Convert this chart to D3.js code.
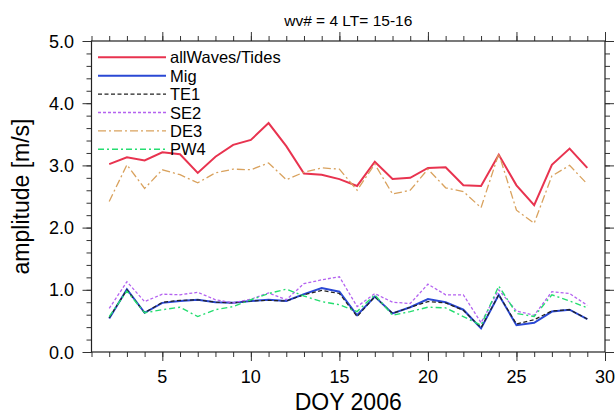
<!DOCTYPE html>
<html>
<head>
<meta charset="utf-8">
<script src="https://d3js.org/d3.v7.min.js"></script>
<style>
  body { margin: 0; background: #fff; }
  text { font-family: "Liberation Sans", Arial, Helvetica, sans-serif; }
</style>
</head>
<body>
<svg id="ampChart" width="615" height="415"></svg>
<script>
// DOY 2006
const days = [2,3,4,5,6,7,8,9,10,11,12,13,14,15,16,17,18,19,20,21,22,23,24,25,26,27,28,29];

const allWaves = [3.02,3.13,3.08,3.21,3.18,2.88,3.14,3.33,3.41,3.68,3.31,2.87,2.85,2.78,2.67,3.06,2.78,2.80,2.96,2.97,2.68,2.67,3.17,2.68,2.36,3.01,3.27,2.96];
const mig      = [0.54,1.01,0.63,0.79,0.82,0.84,0.80,0.79,0.82,0.84,0.82,0.93,1.03,0.97,0.59,0.89,0.62,0.72,0.85,0.80,0.68,0.38,0.92,0.43,0.47,0.65,0.68,0.53];
const te1      = [0.55,1.00,0.63,0.80,0.83,0.84,0.80,0.79,0.82,0.83,0.82,0.92,0.99,0.94,0.57,0.89,0.62,0.72,0.81,0.79,0.67,0.39,0.92,0.45,0.52,0.66,0.68,0.53];
const se2      = [0.70,1.13,0.81,0.93,0.92,0.96,0.84,0.79,0.85,0.95,0.84,1.10,1.16,1.21,0.73,0.94,0.80,0.78,1.09,0.92,0.92,0.47,1.00,0.66,0.59,0.97,0.94,0.75];
const de3      = [2.42,3.01,2.63,2.93,2.85,2.72,2.88,2.94,2.93,3.04,2.77,2.89,2.96,2.94,2.60,3.02,2.54,2.60,2.94,2.64,2.58,2.32,3.19,2.28,2.07,2.83,3.00,2.70];
const pw4      = [0.57,0.98,0.63,0.68,0.72,0.57,0.68,0.73,0.84,0.94,1.01,0.90,0.81,0.76,0.65,0.92,0.59,0.65,0.72,0.71,0.57,0.43,1.06,0.62,0.57,0.92,0.82,0.71];

const xTicks = [5,10,15,20,25,30];
const yTicks = [0,1,2,3,4,5];

const series = [
  {name: "allWaves/Tides", values: allWaves, color: "#e8334f", width: 2,   dash: null},
  {name: "Mig",            values: mig,      color: "#2a48d4", width: 2,   dash: null},
  {name: "TE1",            values: te1,      color: "#222222", width: 1.2, dash: "4,2.5"},
  {name: "SE2",            values: se2,      color: "#b462f0", width: 1.3, dash: "3,2"},
  {name: "DE3",            values: de3,      color: "#d9a25e", width: 1.3, dash: "8,3,2,3"},
  {name: "PW4",            values: pw4,      color: "#25dd70", width: 1.4, dash: "6,3,2,3"}
];

const svg = d3.select("#ampChart");
const mLeft = 91.5, mRight = 605, mTop = 41, mBottom = 352;

let xScale = d3.scaleLinear().domain([1, 30]).range([mLeft, mRight]);
let yScale = d3.scaleLinear().domain([0, 5]).range([mBottom, mTop]);

// frame with outward ticks on all four sides
function tickAxis(axis, transform, major, minor) {
  svg.append("g").attr("transform", transform)
    .call(axis.tickValues(minor).tickSize(5).tickFormat(""))
    .call(g => g.select(".domain").remove());
  svg.append("g").attr("transform", transform)
    .call(axis.tickValues(major).tickSize(9).tickFormat(""))
    .call(g => g.select(".domain").remove());
}
const xMinor = d3.range(1, 31);
const yMinor = d3.range(0, 5.01, 0.2);
tickAxis(d3.axisBottom(xScale), "translate(0," + mBottom + ")", xTicks, xMinor);
tickAxis(d3.axisTop(xScale), "translate(0," + mTop + ")", xTicks, xMinor);
tickAxis(d3.axisLeft(yScale), "translate(" + mLeft + ",0)", yTicks, yMinor);
tickAxis(d3.axisRight(yScale), "translate(" + mRight + ",0)", yTicks, yMinor);

svg.selectAll(".tick line").attr("stroke", "#333").attr("stroke-width", 1);

svg.append("rect")
  .attr("x", mLeft).attr("y", mTop)
  .attr("width", mRight - mLeft).attr("height", mBottom - mTop)
  .attr("fill", "none").attr("stroke", "#222").attr("stroke-width", 1.2);

// tick labels
svg.append("g").selectAll("text")
  .data(xTicks).enter().append("text")
  .attr("x", d => xScale(d)).attr("y", mBottom + 31)
  .attr("text-anchor", "middle").style("font-size", "18px")
  .text(d => d);

svg.append("g").selectAll("text")
  .data(yTicks).enter().append("text")
  .attr("x", mLeft - 17.5).attr("y", d => yScale(d) + 6.5)
  .attr("text-anchor", "end").style("font-size", "18px")
  .text(d => d.toFixed(1));

// titles
svg.append("text")
  .attr("x", (mLeft + mRight) / 2).attr("y", 26)
  .attr("text-anchor", "middle").style("font-size", "15.5px")
  .text("wv# = 4 LT= 15-16");

svg.append("text")
  .attr("x", (mLeft + mRight) / 2).attr("y", 410)
  .attr("text-anchor", "middle").style("font-size", "23px")
  .text("DOY 2006");

svg.append("text")
  .attr("transform", "translate(29," + (mTop + mBottom) / 2 + ") rotate(-90)")
  .attr("text-anchor", "middle").style("font-size", "23px")
  .text("amplitude [m/s]");

// lines
let line = d3.line()
  .x((d, i) => xScale(days[i]))
  .y(d => yScale(d))
  .curve(d3.curveLinear);

series.forEach(s => {
  svg.append("path")
    .datum(s.values)
    .attr("d", line)
    .style("fill", "none")
    .style("stroke", s.color)
    .style("stroke-width", s.width)
    .style("stroke-dasharray", s.dash);
});

// legend
let lg = svg.append("g");
series.forEach((s, i) => {
  const y = 57.3 + i * 18.4;
  lg.append("line")
    .attr("x1", 98).attr("x2", 166).attr("y1", y).attr("y2", y)
    .style("stroke", s.color)
    .style("stroke-width", s.width)
    .style("stroke-dasharray", s.dash);
  lg.append("text")
    .attr("x", 170).attr("y", y + 6)
    .style("font-size", "16.5px")
    .text(s.name);
});
</script>
</body>
</html>
